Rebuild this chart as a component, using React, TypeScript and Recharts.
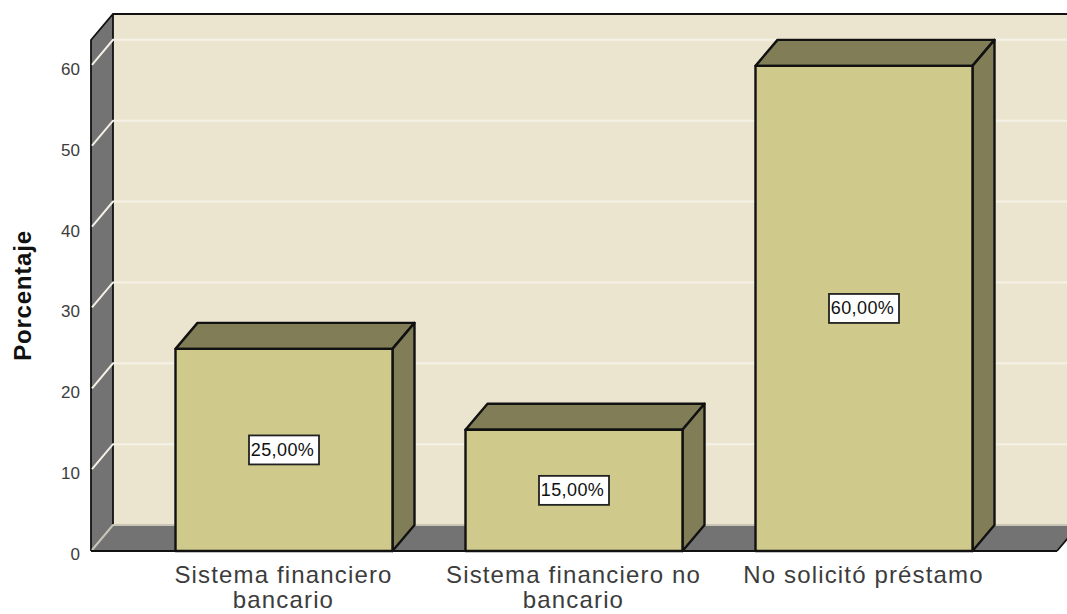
import {
  Bar,
  BarChart,
  Label,
  LabelList,
  ReferenceArea,
  XAxis,
  YAxis,
} from "recharts";

const categories = [
  ["Sistema financiero", "bancario"],
  ["Sistema financiero no", "bancario"],
  ["No solicitó préstamo"],
];
const percentages = [25, 15, 60];
const yTicks = [0, 10, 20, 30, 40, 50, 60];

const data = categories.map((lines, i) => ({
  name: lines.join(" "),
  lines,
  value: percentages[i],
}));

const DX = 22;
const DY = 26;
const LEFT = 91;
const RIGHT = 1057;
const WALL = "#ebe5d0";
const SIDE = "#737373";
const GRID = "#f5f1e6";
const FRONT = "#cfca8c";
const SHADE = "#817d57";
const INK = "#111";

const Walls = ({ y, height }: any) => {
  const bottom = y + height;
  return (
    <g>
      <rect x={LEFT + DX} y={y - DY} width={RIGHT - LEFT + DX} height={height} fill={WALL} />
      <polygon
        points={`${LEFT},${y} ${LEFT + DX},${y - DY} ${LEFT + DX},${bottom - DY} ${LEFT},${bottom}`}
        fill={SIDE}
      />
      <polygon
        points={`${LEFT},${bottom} ${LEFT + DX},${bottom - DY} ${RIGHT + DX},${bottom - DY} ${RIGHT},${bottom}`}
        fill={SIDE}
      />
      <path
        d={`M${LEFT},${bottom} V${y} L${LEFT + DX},${y - DY} H${RIGHT + DX} M${LEFT + DX},${y - DY} V${bottom - DY} M${RIGHT},${bottom} L${RIGHT + DX},${bottom - DY}`}
        fill="none"
        stroke={INK}
        strokeWidth={1.8}
      />
    </g>
  );
};

// one thin band per tick, so the wall grid goes through the y scale and stays behind the bars
const GridLine = ({ y, height }: any) => {
  const yy = y + height;
  const isFloor = yy > 540;
  return (
    <path
      d={`M${LEFT + 1},${yy - 1} L${LEFT + DX},${yy - DY} H${RIGHT + DX}`}
      fill="none"
      stroke={isFloor ? "#c9c6b8" : GRID}
      strokeWidth={2}
    />
  );
};

const Bar3D = ({ x, y, width, height }: any) => {
  const right = x + width;
  const bottom = y + height;
  return (
    <g stroke={INK} strokeWidth={2.4} strokeLinejoin="round">
      <polygon
        points={`${x},${y} ${x + DX},${y - DY} ${right + DX},${y - DY} ${right},${y}`}
        fill={SHADE}
      />
      <polygon
        points={`${right},${y} ${right + DX},${y - DY} ${right + DX},${bottom - DY} ${right},${bottom}`}
        fill={SHADE}
      />
      <rect x={x} y={y} width={width} height={height} fill={FRONT} />
    </g>
  );
};

const ValueBox = ({ x, y, width, height, value }: any) => {
  const cx = x + width / 2;
  const cy = y + height / 2;
  return (
    <g>
      <rect
        x={cx - 35}
        y={cy - 14.5}
        width={70}
        height={29}
        fill="#fff"
        stroke="#222"
        strokeWidth={1.8}
      />
      <text
        x={cx - 1.5}
        y={cy + 6}
        textAnchor="middle"
        fontSize={18}
        letterSpacing={0.4}
        fontFamily="Liberation Sans"
        fill="#111"
      >
        {value.toFixed(2).replace(".", ",") + "%"}
      </text>
    </g>
  );
};

const CategoryTick = ({ x, payload, index }: any) => (
  <text
    x={x}
    textAnchor="middle"
    fontSize={24}
    letterSpacing={1.15}
    fontFamily="Liberation Sans"
    fill="#3c3c3c"
  >
    {categories[payload.index ?? index].map((line, i) => (
      <tspan key={line} x={x} y={583 + i * 25}>
        {line}
      </tspan>
    ))}
  </text>
);

export default function App() {
  return (
    <div style={{ position: "absolute", left: 0, top: 0 }}>
      <BarChart
        width={1067}
        height={614}
        data={data}
        margin={{ top: 40, right: 10, left: 0, bottom: 0 }}
      >
        <ReferenceArea y1={0} y2={63.2} shape={Walls} />
        {yTicks.map((t) => (
          <ReferenceArea key={t} y1={t} y2={t + 0.01} shape={GridLine} />
        ))}
        <XAxis
          dataKey="name"
          height={63}
          padding={{ left: 47.5, right: 48.5 }}
          axisLine={{ stroke: INK, strokeWidth: 2 }}
          tickLine={false}
          interval={0}
          tick={CategoryTick}
        />
        <YAxis
          width={91}
          domain={[0, 63.2]}
          ticks={yTicks}
          axisLine={false}
          tickLine={false}
          tickMargin={5}
          tick={{ fontSize: 17, fontFamily: "Liberation Sans", fill: "#3c3c3c", dy: 3 }}
        >
          <Label
            value="Porcentaje"
            angle={-90}
            position="insideLeft"
            offset={22}
            style={{
              fontSize: 24,
              fontWeight: "bold",
              letterSpacing: 0.8,
              fontFamily: "Liberation Sans",
              fill: "#111",
              textAnchor: "middle",
            }}
          />
        </YAxis>
        <Bar
          dataKey="value"
          barSize={217}
          shape={Bar3D}
          isAnimationActive={false}
        >
          <LabelList dataKey="value" content={ValueBox} />
        </Bar>
      </BarChart>
    </div>
  );
}
